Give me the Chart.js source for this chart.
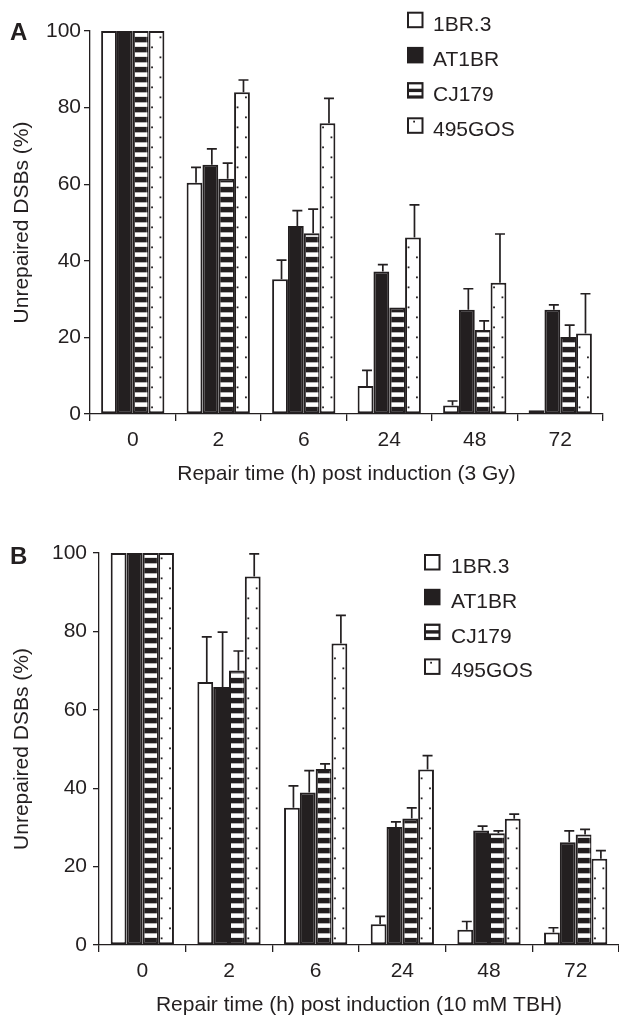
<!DOCTYPE html>
<html><head><meta charset="utf-8">
<script src="https://cdn.jsdelivr.net/npm/chart.js@4/dist/chart.umd.min.js"></script>
<style>
html,body{margin:0;padding:0;background:#fff;}
#wrap{width:619px;height:1018px;position:relative;overflow:hidden;}
.c{position:absolute;left:0;}
</style></head><body>
<div id="wrap">
<div class="c" style="top:0;width:619px;height:500px"><canvas id="ca"></canvas></div>
<div class="c" style="top:500px;width:619px;height:518px"><canvas id="cb"></canvas></div>
</div>
<script>
// ---------- data ----------
const categories = ['0', '2', '6', '24', '48', '72'];
const seriesNames = ['1BR.3', 'AT1BR', 'CJ179', '495GOS'];
const yTickValues = [0, 20, 40, 60, 80, 100];

// Panel A: 3 Gy
const a1BR3   = [100, 60.4, 35.2, 7.3, 2.2, 1.0];
const aAT1BR  = [100, 65.1, 49.1, 37.2, 27.2, 27.2];
const aCJ179  = [100, 61.4, 47.2, 27.8, 21.9, 20.1];
const a495GOS = [100, 84.0, 75.9, 46.1, 34.3, 21.0];
const a1BR3Err   = [0, 4.0, 5.0, 4.1, 1.2, 0];
const aAT1BRErr  = [0, 4.1, 4.0, 1.8, 5.5, 1.3];
const aCJ179Err  = [0, 4.1, 6.3, 0, 2.4, 3.1];
const a495GOSErr = [0, 3.2, 6.5, 8.5, 12.7, 10.4];

// Panel B: 10 mM TBH
const b1BR3   = [100, 67.1, 35.0, 5.3, 3.9, 3.2];
const bAT1BR  = [100, 65.8, 38.9, 30.1, 29.2, 26.2];
const bCJ179  = [100, 70.0, 44.9, 32.3, 28.5, 28.2];
const b495GOS = [100, 94.0, 76.9, 44.8, 32.2, 22.0];
const b1BR3Err   = [0, 11.5, 5.6, 2.0, 2.1, 1.2];
const bAT1BRErr  = [0, 14.0, 5.6, 1.3, 1.1, 2.9];
const bCJ179Err  = [0, 5.0, 1.3, 2.7, 0.6, 1.3];
const b495GOSErr = [0, 5.8, 7.2, 3.5, 1.2, 2.1];

const xTitleA = 'Repair time (h) post induction (3 Gy)';
const xTitleB = 'Repair time (h) post induction (10 mM TBH)';
const yTitle = 'Unrepaired DSBs (%)';

// ---------- styling ----------
const INK = '#231f20';
const FONT = "'Liberation Sans', Arial, Helvetica, sans-serif";
const fills = ['#ffffff', INK, INK, '#ffffff'];

function decorPlugin(errs, cfg) {
  return {
    id: 'decor',
    afterDatasetsDraw(chart) {
      const ctx = chart.ctx;
      const ys = chart.scales.y;
      // stripes for CJ179
      const m2 = chart.getDatasetMeta(2);
      m2.data.forEach(el => {
        const w = el.width, l = el.x - w / 2, top = Math.min(el.y, el.base), base = Math.max(el.y, el.base);
        ctx.save();
        ctx.beginPath();
        ctx.rect(l + 2, top + 2, w - 3, base - top - 2);
        ctx.clip();
        ctx.fillStyle = '#ffffff';
        for (let yy = base - 11; yy > top - 10; yy -= 10) {
          ctx.fillRect(l + 2, yy, w - 3, 4.5);
        }
        ctx.restore();
      });
      // dots for 495GOS
      const m3 = chart.getDatasetMeta(3);
      m3.data.forEach(el => {
        const w = el.width, l = el.x - w / 2, top = Math.min(el.y, el.base), base = Math.max(el.y, el.base);
        ctx.save();
        ctx.fillStyle = INK;
        for (let yy = base - 6; yy > top + 4; yy -= 20) ctx.fillRect(l + 0.22 * w - 0.9, yy - 0.9, 1.8, 1.8);
        for (let yy = base - 16; yy > top + 4; yy -= 20) ctx.fillRect(l + 0.75 * w - 0.9, yy - 0.9, 1.8, 1.8);
        ctx.restore();
      });
      // error bars (upper only)
      ctx.save();
      ctx.strokeStyle = INK;
      ctx.lineWidth = 1.7;
      chart.data.datasets.forEach((ds, di) => {
        const meta = chart.getDatasetMeta(di);
        meta.data.forEach((el, i) => {
          const e = errs[di][i];
          if (!e) return;
          const x = el.x + 1.5;
          const y0 = ys.getPixelForValue(ds.data[i]);
          const y1 = ys.getPixelForValue(ds.data[i] + e);
          ctx.beginPath();
          ctx.moveTo(x, y0);
          ctx.lineTo(x, y1);
          ctx.moveTo(x - 5, y1);
          ctx.lineTo(x + 5, y1);
          ctx.stroke();
        });
      });
      ctx.restore();
    },
    afterDraw(chart) {
      const ctx = chart.ctx;
      ctx.save();
      // panel letter
      ctx.fillStyle = INK;
      ctx.font = 'bold 24px ' + FONT;
      ctx.textBaseline = 'alphabetic';
      ctx.textAlign = 'left';
      ctx.fillText(cfg.letter, 10, cfg.letterY);
      // legend
      ctx.font = '21px ' + FONT;
      chart.data.datasets.forEach((ds, i) => {
        const bx = cfg.legX, by = cfg.legY + i * cfg.legStep, s = 16.5;
        ctx.fillStyle = INK;
        ctx.fillRect(bx, by, s, s);
        ctx.fillStyle = '#ffffff';
        if (i === 0 || i === 3) ctx.fillRect(bx + 2, by + 2, s - 4, s - 4);
        if (i === 2) {
          ctx.fillRect(bx + 2, by + 2.3, s - 4, 4.3);
          ctx.fillRect(bx + 2, by + 10, s - 4, 3.3);
        }
        if (i === 3) {
          ctx.fillStyle = INK;
          ctx.fillRect(bx + 6.2, by + 3.4, 1.8, 1.8);
        }
        ctx.fillStyle = INK;
        ctx.fillText(ds.label, cfg.textX, by + s + 2.4);
      });
      ctx.restore();
    }
  };
}

function makeChart(id, vals, errs, cfg) {
  return new Chart(document.getElementById(id), {
    type: 'bar',
    data: {
      labels: categories,
      datasets: seriesNames.map((n, i) => ({
        label: n,
        data: vals[i],
        backgroundColor: fills[i],
        borderColor: INK,
        borderWidth: 2,
        borderSkipped: false,
        categoryPercentage: cfg.catPct,
        barPercentage: 1.0
      }))
    },
    options: {
      responsive: true,
      maintainAspectRatio: false,
      animation: false,
      events: [],
      layout: { padding: { top: cfg.padTop, right: cfg.padRight, left: 0, bottom: 0 } },
      plugins: { legend: { display: false }, tooltip: { enabled: false }, title: { display: false } },
      scales: {
        x: {
          offset: true,
          afterFit: s => { s.height = cfg.xHeight; },
          grid: { display: true, drawOnChartArea: false, offset: true, color: INK, lineWidth: 1.3, tickLength: 7 },
          border: { display: true, color: INK, width: 1.3 },
          ticks: { color: INK, font: { family: FONT, size: 21 }, padding: cfg.xTickPad, maxRotation: 0 },
          title: { display: true, text: cfg.xTitle, color: INK, font: { family: FONT, size: 21 }, padding: { top: 0, bottom: cfg.xTitlePad } }
        },
        y: {
          min: 0, max: 100,
          afterFit: s => { s.width = cfg.yWidth; },
          afterBuildTicks: s => { s.ticks = yTickValues.map(v => ({ value: v })); },
          grid: { display: true, drawOnChartArea: false, color: INK, lineWidth: 1.3, tickLength: 6 },
          border: { display: true, color: INK, width: 1.3 },
          ticks: { color: INK, font: { family: FONT, size: 21 }, padding: cfg.yTickPad },
          title: { display: true, text: yTitle, color: INK, font: { family: FONT, size: 21 }, padding: { top: 9.4, bottom: 0 } }
        }
      }
    },
    plugins: [decorPlugin(errs, cfg)]
  });
}

makeChart('ca',
  [a1BR3, aAT1BR, aCJ179, a495GOS],
  [a1BR3Err, aAT1BRErr, aCJ179Err, a495GOSErr],
  { yWidth: 90, xHeight: 86, padTop: 31, padRight: 16, catPct: 0.74, xTickPad: 7, xTitlePad: 13.4, yTickPad: 3,
    xTitle: xTitleA, letter: 'A', letterY: 40, legX: 407, legY: 11.7, legStep: 35.2, textX: 433 });

makeChart('cb',
  [b1BR3, bAT1BR, bCJ179, b495GOS],
  [b1BR3Err, bAT1BRErr, bCJ179Err, b495GOSErr],
  { yWidth: 99, xHeight: 73, padTop: 53, padRight: 0, catPct: 0.73, xTickPad: 7, xTitlePad: 0, yTickPad: 6,
    xTitle: xTitleB, letter: 'B', letterY: 64.3, legX: 424, legY: 54, legStep: 34.8, textX: 451 });
</script>
</body></html>
